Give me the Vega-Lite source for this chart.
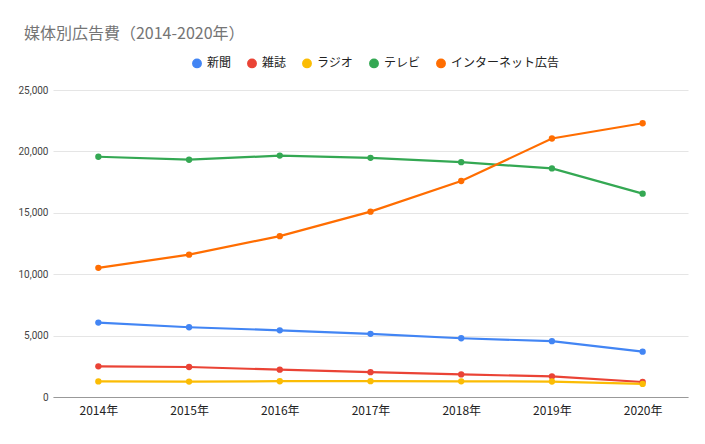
{
  "$schema": "https://vega.github.io/schema/vega-lite/v6.json",
  "autosize": "none",
  "width": 635,
  "height": 307,
  "padding": {"left": 53, "top": 90, "right": 17, "bottom": 47},
  "background": "white",
  "config": {"view": {"stroke": null}},
  "title": {
    "text": "媒体別広告費（2014-2020年）",
    "anchor": "start",
    "dx": 6,
    "offset": 15,
    "fontSize": 16,
    "fontWeight": "normal",
    "color": "#757575",
    "font": "Noto Sans CJK JP"
  },
  "data": {
    "values": [
      {"year": "2014年", "media": "新聞", "value": 6057},
      {"year": "2015年", "media": "新聞", "value": 5679},
      {"year": "2016年", "media": "新聞", "value": 5431},
      {"year": "2017年", "media": "新聞", "value": 5147},
      {"year": "2018年", "media": "新聞", "value": 4784},
      {"year": "2019年", "media": "新聞", "value": 4547},
      {"year": "2020年", "media": "新聞", "value": 3688},
      {"year": "2014年", "media": "雑誌", "value": 2500},
      {"year": "2015年", "media": "雑誌", "value": 2443},
      {"year": "2016年", "media": "雑誌", "value": 2223},
      {"year": "2017年", "media": "雑誌", "value": 2023},
      {"year": "2018年", "media": "雑誌", "value": 1841},
      {"year": "2019年", "media": "雑誌", "value": 1675},
      {"year": "2020年", "media": "雑誌", "value": 1223},
      {"year": "2014年", "media": "ラジオ", "value": 1272},
      {"year": "2015年", "media": "ラジオ", "value": 1254},
      {"year": "2016年", "media": "ラジオ", "value": 1285},
      {"year": "2017年", "media": "ラジオ", "value": 1290},
      {"year": "2018年", "media": "ラジオ", "value": 1278},
      {"year": "2019年", "media": "ラジオ", "value": 1260},
      {"year": "2020年", "media": "ラジオ", "value": 1066},
      {"year": "2014年", "media": "テレビ", "value": 19564},
      {"year": "2015年", "media": "テレビ", "value": 19323},
      {"year": "2016年", "media": "テレビ", "value": 19657},
      {"year": "2017年", "media": "テレビ", "value": 19478},
      {"year": "2018年", "media": "テレビ", "value": 19123},
      {"year": "2019年", "media": "テレビ", "value": 18612},
      {"year": "2020年", "media": "テレビ", "value": 16559},
      {"year": "2014年", "media": "インターネット広告", "value": 10519},
      {"year": "2015年", "media": "インターネット広告", "value": 11594},
      {"year": "2016年", "media": "インターネット広告", "value": 13100},
      {"year": "2017年", "media": "インターネット広告", "value": 15094},
      {"year": "2018年", "media": "インターネット広告", "value": 17589},
      {"year": "2019年", "media": "インターネット広告", "value": 21048},
      {"year": "2020年", "media": "インターネット広告", "value": 22290}
    ]
  },
  "encoding": {
    "x": {
      "field": "year",
      "type": "ordinal",
      "scale": {"type": "point", "padding": 0.5},
      "axis": {
        "title": null,
        "labelAngle": 0,
        "labelFontSize": 12,
        "labelColor": "#222222",
        "labelFont": "Noto Sans CJK JP",
        "labelPadding": 8,
        "domainColor": "#999999",
        "ticks": false,
        "grid": false
      }
    },
    "y": {
      "field": "value",
      "type": "quantitative",
      "scale": {"domain": [0, 25000]},
      "axis": {
        "title": null,
        "values": [0, 5000, 10000, 15000, 20000, 25000],
        "format": ",.0f",
        "labelFontSize": 10,
        "labelColor": "#444444",
        "labelFont": "Roboto",
        "labelPadding": 5,
        "domain": false,
        "ticks": false,
        "gridColor": "#e5e5e5"
      }
    },
    "color": {
      "field": "media",
      "type": "nominal",
      "scale": {
        "domain": ["新聞", "雑誌", "ラジオ", "テレビ", "インターネット広告"],
        "range": ["#4285F4", "#EA4335", "#FBBC04", "#34A853", "#FF6D01"]
      },
      "legend": {
        "title": null,
        "orient": "none",
        "direction": "horizontal",
        "legendX": 138,
        "legendY": -33,
        "symbolType": "circle",
        "symbolSize": 70,
        "labelFontSize": 12,
        "labelFont": "Noto Sans CJK JP",
        "labelColor": "#222222",
        "columnPadding": 12
      }
    }
  },
  "layer": [
    {"mark": {"type": "line", "strokeWidth": 2.2}},
    {"mark": {"type": "point", "filled": true, "size": 40, "opacity": 1}}
  ]
}
